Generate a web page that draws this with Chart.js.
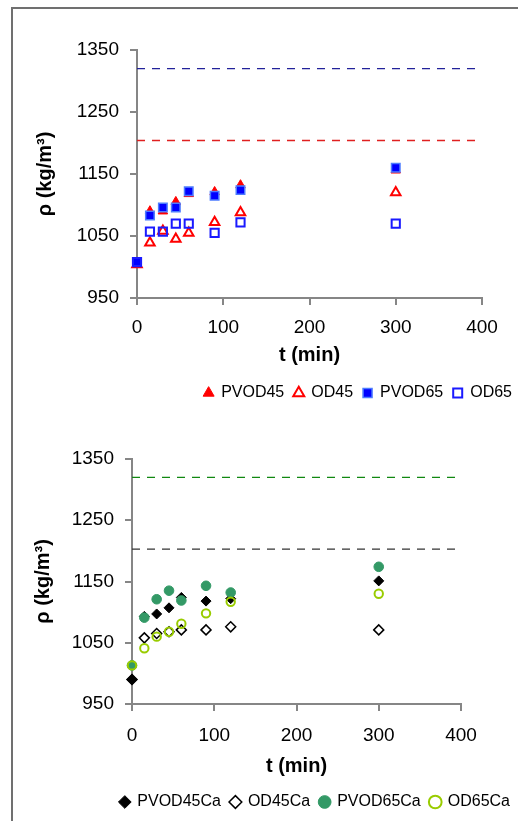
<!DOCTYPE html>
<html>
<head>
<meta charset="utf-8">
<script src="https://cdn.jsdelivr.net/npm/chart.js@4.4.1/dist/chart.umd.min.js"></script>
<style>
	html, body { margin: 0; padding: 0; background: #fff; overflow: hidden; }
	#page { position: relative; width: 518px; height: 821px; overflow: hidden; }
	#frame { position: absolute; left: 11px; top: 7px; width: 700px; height: 900px; border-left: 2px solid #707070; border-top: 2px solid #707070; }
	.box { position: absolute; left: 14px; width: 510px; height: 404px; }
	#box1 { top: 10px; }
	#box2 { top: 418px; }
</style>
</head>
<body>
<div id="page">
	<div id="frame"></div>
	<div class="box" id="box1"><canvas id="topChart"></canvas></div>
	<div class="box" id="box2"><canvas id="bottomChart"></canvas></div>
</div>
<script>
	//Sampling times (min)
	var times = [0, 15, 30, 45, 60, 90, 120, 300];

	//Top chart densities (kg/m3)
	var pvod45 = [1004, 1090, 1090, 1105, 1118, 1121, 1132, 1156];
	var od45 = [1004, 1039, 1058, 1045, 1055, 1072, 1088, 1120];
	var pvod65 = [1008, 1083, 1096, 1096, 1122, 1115, 1124, 1160];
	var od65 = [1008, 1057, 1057, 1070, 1070, 1055, 1072, 1070];

	//Bottom chart densities (kg/m3)
	var pvod45ca = [990, 1093, 1097, 1107, 1124, 1118, 1122, 1151];
	var od45ca = [990, 1058, 1065, 1068, 1071, 1071, 1076, 1071];
	var pvod65ca = [1013, 1091, 1121, 1135, 1119, 1143, 1132, 1174];
	var od65ca = [1013, 1041, 1060, 1068, 1081, 1098, 1117, 1130];

	//Dashed reference levels
	var topRefLines = [1320, 1204];
	var bottomRefLines = [1320, 1203];

	//Axis ranges [min, max, step]
	var xRange = [0, 400, 100];
	var yRange = [950, 1350, 100];

	var fam = "'Liberation Sans', Arial, sans-serif";
	var axisColor = '#868686';

	function toPoints(ys) {
		return times.map(function (t, i) { return { x: t, y: ys[i] }; });
	}

	//Marker series, later ones drawn on top
	function markerSet(label, ys, style, radius, fill, border, width, order) {
		return {
			label: label,
			data: toPoints(ys),
			yAxisID: 'y',
			pointStyle: style,
			pointRadius: radius,
			pointHoverRadius: radius,
			backgroundColor: fill,
			borderColor: border,
			pointBorderWidth: width,
			borderWidth: width,
			showLine: false,
			clip: false,
			order: order
		};
	}

	function refLine(y, color) {
		return {
			label: 'ref',
			data: [{ x: xRange[0], y: y }, { x: xRange[1], y: y }],
			yAxisID: 'y',
			showLine: true,
			pointRadius: 0,
			borderColor: color,
			borderWidth: 1.3,
			borderDash: [8, 7],
			fill: false,
			order: 20
		};
	}

	//Plain numbers, no thousands separator
	function plainTick(value) {
		return String(value);
	}

	function makeChart(id, datasets, L) {
		var ctx = document.getElementById(id).getContext('2d');
		return new Chart(ctx, {
			type: 'scatter',
			data: { datasets: datasets },
			options: {
				responsive: true,
				maintainAspectRatio: false,
				animation: false,
				layout: { padding: { left: L.padLeft, right: L.padRight, top: L.padTop, bottom: L.padBottom } },
				plugins: {
					tooltip: { enabled: false },
					legend: {
						position: 'bottom',
						align: 'end',
						labels: {
							usePointStyle: true,
							boxWidth: 9,
							boxHeight: 9,
							padding: 10,
							color: '#000',
							font: { size: 16, family: fam },
							filter: function (item) { return item.datasetIndex < 4; },
							sort: function (a, b) { return a.datasetIndex - b.datasetIndex; }
						}
					}
				},
				scales: {
					x: {
						type: 'linear',
						min: xRange[0],
						max: xRange[1],
						ticks: { stepSize: xRange[2], color: '#000', font: { size: 19, family: fam }, padding: L.xTickPad, maxRotation: 0, callback: plainTick },
						grid: { drawOnChartArea: false, drawTicks: true, tickLength: 7, color: axisColor, lineWidth: 2 },
						border: { color: axisColor, width: 2 },
						title: { display: true, text: 't (min)', color: '#000', font: { size: 20, weight: 'bold', family: fam }, padding: { top: 0, bottom: L.xTitlePad } },
						afterFit: function (s) { s.height = L.xHeight; }
					},
					y: {
						type: 'linear',
						position: 'left',
						min: yRange[0],
						max: yRange[1],
						ticks: { stepSize: yRange[2], color: '#000', font: { size: 19, family: fam }, padding: 11, callback: plainTick },
						grid: { drawOnChartArea: false, drawTicks: true, tickLength: 7, color: axisColor, lineWidth: 2 },
						border: { color: axisColor, width: 2 },
						title: { display: true, text: 'ρ (kg/m³)', color: '#000', font: { size: 20, weight: 'bold', family: fam }, padding: { top: 4, bottom: 0 } },
						afterFit: function (s) { s.width = L.yWidth; }
					},
					yR: {
						type: 'linear',
						position: 'right',
						display: true,
						ticks: { display: false },
						grid: { display: false },
						border: { display: false },
						afterFit: function (s) { s.width = L.rightWidth; }
					}
				}
			}
		});
	}

	//Top chart
	var topChart = makeChart('topChart', [
		markerSet('PVOD45', pvod45, 'triangle', 5.5, '#ff0000', '#ff0000', 1, 4),
		markerSet('OD45', od45, 'triangle', 5.5, 'rgba(0,0,0,0)', '#ff0000', 2, 3),
		markerSet('PVOD65', pvod65, 'rect', 6, '#0000ff', '#4d7cff', 1.5, 2),
		markerSet('OD65', od65, 'rect', 5.8, 'rgba(0,0,0,0)', '#1a1aff', 2, 1),
		refLine(topRefLines[0], '#22229a'),
		refLine(topRefLines[1], '#e02020')
	], { padLeft: 15, padRight: 2, padTop: 40, padBottom: 3, yWidth: 108, rightWidth: 40, xHeight: 77, xTickPad: 11, xTitlePad: 8 });

	//Bottom chart
	var bottomChart = makeChart('bottomChart', [
		markerSet('PVOD45Ca', pvod45ca, 'rectRot', 5, '#000000', '#000000', 1, 4),
		markerSet('OD45Ca', od45ca, 'rectRot', 5, 'rgba(0,0,0,0)', '#000000', 1.5, 3),
		markerSet('PVOD65Ca', pvod65ca, 'circle', 4.8, '#339966', '#339966', 1, 2),
		markerSet('OD65Ca', od65ca, 'circle', 4.2, 'rgba(0,0,0,0)', '#99cc00', 2, 1),
		refLine(bottomRefLines[0], '#118811'),
		refLine(bottomRefLines[1], '#333333')
	], { padLeft: 13, padRight: 4, padTop: 41, padBottom: 2, yWidth: 105, rightWidth: 59, xHeight: 80, xTickPad: 13, xTitlePad: 6 });
</script>
</body>
</html>
